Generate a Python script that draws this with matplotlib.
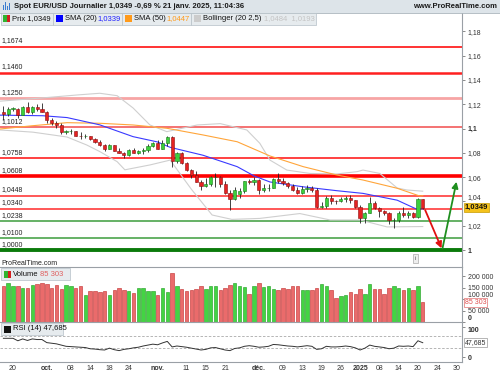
import numpy as np
import pandas as pd
import matplotlib
matplotlib.use("Agg")
import matplotlib.pyplot as plt
from matplotlib.patches import Rectangle

plt.rcParams['font.family'] = ['Liberation Sans', 'DejaVu Sans']

# ---- data -------------------------------------------------------------
opens = [1.1133, 1.1117, 1.1162, 1.1160, 1.1112, 1.1179, 1.1133, 1.1176, 1.1163,
         1.1135, 1.1068, 1.1046, 1.1032, 1.0975, 1.0976, 1.0978, 1.0942, 1.0935, 1.0937, 1.0910, 1.0890,
         1.0862, 1.0833, 1.0866, 1.0817, 1.0796, 1.0780, 1.0827, 1.0797, 1.0815, 1.0819, 1.0856,
         1.0884, 1.0833, 1.0878, 1.0930, 1.0729, 1.0800, 1.0720, 1.0656, 1.0620, 1.0562, 1.0530,
         1.0540, 1.0598, 1.0597, 1.0543, 1.0470, 1.0418, 1.0458, 1.0487, 1.0565, 1.0562,
         1.0577, 1.0497, 1.0510, 1.0512, 1.0586, 1.0567, 1.0553, 1.0527, 1.0496, 1.0467, 1.0500,
         1.0513, 1.0490, 1.0353, 1.0364, 1.0430, 1.0405, 1.0400, 1.0422, 1.0430, 1.0410,
         1.0354, 1.0265, 1.0307, 1.0387, 1.0342, 1.0320, 1.0302, 1.0243, 1.0245, 1.0308, 1.0290,
         1.0301, 1.0274, 1.0418]
highs = [1.1189, 1.1180, 1.1180, 1.1168, 1.1185, 1.1214, 1.1189, 1.1202, 1.1209,
         1.1145, 1.1083, 1.1058, 1.1047, 1.0989, 1.0992, 1.0983, 1.0968, 1.0955, 1.0940, 1.0919, 1.0903,
         1.0870, 1.0870, 1.0866, 1.0836, 1.0805, 1.0829, 1.0837, 1.0825, 1.0836, 1.0870, 1.0885,
         1.0905, 1.0906, 1.0937, 1.0937, 1.0805, 1.0808, 1.0728, 1.0668, 1.0654, 1.0580, 1.0595,
         1.0610, 1.0630, 1.0610, 1.0570, 1.0497, 1.0520, 1.0508, 1.0566, 1.0585, 1.0597,
         1.0585, 1.0541, 1.0545, 1.0590, 1.0630, 1.0595, 1.0560, 1.0540, 1.0520, 1.0523, 1.0535,
         1.0525, 1.0510, 1.0393, 1.0445, 1.0455, 1.0415, 1.0435, 1.0445, 1.0455, 1.0415,
         1.0370, 1.0315, 1.0436, 1.0400, 1.0350, 1.0330, 1.0315, 1.0260, 1.0317, 1.0350, 1.0318,
         1.0314, 1.0430, 1.0420]
lows = [1.1069, 1.1102, 1.1140, 1.1083, 1.1110, 1.1130, 1.1120, 1.1143, 1.1133,
        1.1045, 1.1030, 1.1008, 1.0951, 1.0954, 1.0956, 1.0940, 1.0915, 1.0925, 1.0902, 1.0880, 1.0855,
        1.0811, 1.0830, 1.0815, 1.0795, 1.0761, 1.0775, 1.0795, 1.0792, 1.0789, 1.0810, 1.0845,
        1.0830, 1.0830, 1.0860, 1.0683, 1.0713, 1.0706, 1.0650, 1.0595, 1.0557, 1.0496, 1.0520,
        1.0525, 1.0522, 1.0520, 1.0460, 1.0333, 1.0415, 1.0425, 1.0471, 1.0545, 1.0535,
        1.0460, 1.0480, 1.0485, 1.0510, 1.0555, 1.0536, 1.0510, 1.0485, 1.0465, 1.0465, 1.0480,
        1.0480, 1.0343, 1.0345, 1.0343, 1.0380, 1.0380, 1.0396, 1.0398, 1.0389, 1.0347,
        1.0226, 1.0225, 1.0305, 1.0340, 1.0272, 1.0290, 1.0215, 1.0178, 1.0230, 1.0270, 1.0260,
        1.0267, 1.0266, 1.0340]
closes = [1.1117, 1.1162, 1.1164, 1.1112, 1.1179, 1.1133, 1.1176, 1.1163, 1.1135,
          1.1068, 1.1046, 1.1032, 1.0975, 1.0976, 1.0978, 1.0942, 1.0935, 1.0937, 1.0910, 1.0890, 1.0862,
          1.0833, 1.0866, 1.0817, 1.0796, 1.0780, 1.0827, 1.0797, 1.0815, 1.0819, 1.0856, 1.0884,
          1.0833, 1.0878, 1.0930, 1.0729, 1.0800, 1.0720, 1.0656, 1.0620, 1.0562, 1.0530, 1.0540,
          1.0598, 1.0600, 1.0543, 1.0470, 1.0418, 1.0496, 1.0487, 1.0565, 1.0562, 1.0577,
          1.0497, 1.0510, 1.0512, 1.0586, 1.0567, 1.0553, 1.0527, 1.0496, 1.0467, 1.0500, 1.0513,
          1.0490, 1.0353, 1.0364, 1.0430, 1.0405, 1.0400, 1.0422, 1.0430, 1.0410, 1.0354,
          1.0265, 1.0307, 1.0387, 1.0342, 1.0320, 1.0302, 1.0243, 1.0245, 1.0308, 1.0290, 1.0301,
          1.0274, 1.0418, 1.0349]
volumes = [159e3, 171e3, 156e3, 159e3, 149e3, 149e3, 162e3, 167e3, 171e3,
           164e3, 149e3, 162e3, 145e3, 162e3, 156e3, 149e3, 155e3, 119e3, 136e3, 134e3, 133e3,
           134e3, 119e3, 141e3, 149e3, 140e3, 137e3, 127e3, 149e3, 149e3, 136e3, 136e3,
           119e3, 149e3, 133e3, 215e3, 156e3, 145e3, 134e3, 141e3, 145e3, 159e3, 145e3,
           155e3, 159e3, 141e3, 149e3, 162e3, 171e3, 159e3, 152e3, 122e3, 156e3,
           171e3, 152e3, 155e3, 145e3, 140e3, 149e3, 145e3, 156e3, 156e3, 141e3, 141e3,
           141e3, 149e3, 167e3, 156e3, 141e3, 103e3, 115e3, 116e3, 133e3, 123e3,
           145e3, 123e3, 164e3, 145e3, 145e3, 123e3, 149e3, 159e3, 149e3, 140e3, 149e3,
           140e3, 155e3, 85303]
rsi = [62, 62, 62, 54, 60, 55, 60, 58, 58,
       48, 46, 44, 40, 36, 35, 34, 33, 32, 28, 27, 25, 24, 30, 25, 22, 26, 28, 31, 33, 37, 40, 43,
       41, 47, 52, 34, 37, 35, 33, 30, 27, 24, 26, 31, 32, 28, 24, 22, 29, 31, 36, 38, 36,
       33, 34, 36, 42, 41, 39, 37, 36, 34, 36, 38, 36, 26, 28, 36, 34, 34, 35, 37, 35, 31,
       24, 30, 40, 36, 34, 32, 28, 30, 37, 36, 37, 35, 54, 47.685]

# indicator lines (bar index, value)
sma20_x = [-0.7, 8.2, 13.2, 20, 26.9, 31.9, 34.6, 41.4, 48.5, 52, 55.3, 62.2, 69.2, 74.6, 81.7, 85.8, 87]
sma20_y = [1.1110, 1.1105, 1.1090, 1.1030, 1.0933, 1.0890, 1.0845, 1.0780, 1.0686, 1.0610,
           1.0560, 1.0520, 1.0488, 1.0466, 1.0410, 1.0335, 1.0339]
sma50_x = [-0.7, 6.1, 13.2, 20, 26.9, 33.9, 41.4, 48.5, 55.3, 62.2, 69.2, 74.6, 81.7, 86.4, 87]
sma50_y = [1.0996, 1.1023, 1.1048, 1.1043, 1.1029, 1.1002, 1.0947, 1.0891, 1.0774, 1.0686,
           1.0617, 1.0576, 1.0508, 1.0444, 1.0447]
bb_up_x = [-0.7, 7.6, 15.3, 20, 23.6, 26.9, 30.4, 33.9, 40.2, 45, 50.5, 53.2, 55.3, 58.8,
           63.6, 69.2, 73.4, 74.6, 78.1, 81.7, 83.7, 87]
bb_up_y = [1.1225, 1.1250, 1.1276, 1.1290, 1.1270, 1.1169, 1.1029, 1.0974, 1.1029, 1.1040,
           1.0988, 1.0878, 1.0740, 1.0658, 1.0630, 1.0626, 1.0645, 1.0658, 1.0630, 1.0510,
           1.0494, 1.0484]
bb_lo_x = [-0.7, 6.1, 13.2, 17.3, 20, 23.6, 25.2, 30.4, 34.6, 39, 43.3, 47.4, 53.2, 61.5,
           67.8, 74, 79.6, 87]
bb_lo_y = [1.0988, 1.0970, 1.0930, 1.0864, 1.0810, 1.0727, 1.0660, 1.0700, 1.0740, 1.0500,
           1.0288, 1.0252, 1.0260, 1.0300, 1.0247, 1.0247, 1.0190, 1.0193]

levels = [1.1674, 1.1460, 1.1250, 1.1012, 1.0758, 1.0608, 1.0448, 1.0340, 1.0238, 1.0100, 1.0000]
level_colors = ['#ff1010', '#ff2020', '#f7a5a5', '#f25a5a', '#ff2020', '#ff0000',
                '#ff2a2a', '#ff2a2a', '#3c9c3c', '#3c9c3c', '#0b7a0b']
level_widths = [1.2, 1.8, 2.0, 1.2, 1.2, 2.6, 1.1, 1.1, 1.1, 1.1, 2.8]

# projection arrows: (bar index, price) start -> end
arrow_down = [(87.5, 1.0329), (90.9, 1.0014)]
arrow_up = [(91.1, 1.0014), (94.0, 1.0562)]

tick_dates = ['2024-09-20', '2024-10-01', '2024-10-08', '2024-10-14', '2024-10-18', '2024-10-24',
              '2024-11-01', '2024-11-11', '2024-11-15', '2024-11-21', '2024-12-02', '2024-12-09',
              '2024-12-13', '2024-12-19', '2024-12-26', '2025-01-02', '2025-01-08', '2025-01-14',
              '2025-01-20', '2025-01-24', '2025-01-30']
tick_labels = ['20', 'oct.', '08', '14', '18', '24', 'nov.', '11', '15', '21', 'déc.', '09',
               '13', '19', '26', '2025', '08', '14', '20', '24', '30']
bold_labels = ['oct.', 'nov.', 'déc.', '2025']

# trading days (no Christmas / New Year)
days = pd.bdate_range('2024-09-18', '2025-02-05')
days = days[~days.isin(pd.to_datetime(['2024-12-25', '2025-01-01']))]
pos = {d.strftime('%Y-%m-%d'): i for i, d in enumerate(days)}

n = len(closes)
x = np.arange(n)
o = np.array(opens); c = np.array(closes); h = np.array(highs); l = np.array(lows)
up = c >= o

# ---- figure -----------------------------------------------------------
W, H = 500, 375
fig = plt.figure(figsize=(5, 3.75), dpi=100)


def fx(px):
    return px / W


def fy(py):
    return 1 - py / H


RIGHT = 462
ax = fig.add_axes([0, fy(267), fx(RIGHT), (267 - 13) / H])
axv = fig.add_axes([0, fy(322), fx(RIGHT), (322 - 267) / H], sharex=ax)
axr = fig.add_axes([0, fy(362), fx(RIGHT), (362 - 322) / H], sharex=ax)

xmin = -3.4 / 4.82
xmax = (RIGHT - 3.4) / 4.82
ax.set_xlim(xmin, xmax)
ax.set_ylim(1 - 17 / 1215, 1 + 237 / 1215)
axv.set_ylim(0, 240000)
axr.set_ylim(-15, 115)

for a in (ax, axv, axr):
    for s in ('left', 'top', 'bottom'):
        a.spines[s].set_visible(False)
    a.spines['right'].set_color('#9aa0a6')
    a.spines['right'].set_linewidth(0.8)
    a.yaxis.tick_right()
    a.tick_params(axis='y', length=2.5, width=0.6, color='#777777', pad=1.5,
                  labelsize=5, labelcolor='#333333')
    a.tick_params(axis='x', length=0, labelbottom=False)

for a in (axv, axr):
    a.spines['top'].set_visible(True)
    a.spines['top'].set_color('#9aa0a6')
    a.spines['top'].set_linewidth(0.8)
axr.spines['bottom'].set_visible(True)
axr.spines['bottom'].set_color('#9aa0a6')
axr.spines['bottom'].set_linewidth(0.8)

# horizontal levels
for lv, col, lw in zip(levels, level_colors, level_widths):
    ax.axhline(lv, color=col, lw=lw, zorder=1)
    ax.text(0.004, lv + 0.0018, f'{lv:.4f}'.replace('.', ','), transform=ax.get_yaxis_transform(),
            fontsize=5, color='#222222', va='bottom', ha='left')

# indicators
ax.plot(bb_up_x, bb_up_y, color='#cfcfcf', lw=0.8, zorder=2)
ax.plot(bb_lo_x, bb_lo_y, color='#cfcfcf', lw=0.8, zorder=2)
ax.plot(sma50_x, sma50_y, color='#ffa53a', lw=0.8, zorder=2)
ax.plot(sma20_x, sma20_y, color='#3a3aff', lw=0.8, zorder=2)

# candles
ax.vlines(x, l, h, color='#222222', lw=0.6, zorder=3)
body_lo = np.minimum(o, c)
body_h = np.maximum(np.abs(c - o), 0.0003)
ax.bar(x[up], body_h[up], bottom=body_lo[up], width=0.66, color='#3ccf3c',
       edgecolor='#157a15', lw=0.4, zorder=4)
ax.bar(x[~up], body_h[~up], bottom=body_lo[~up], width=0.66, color='#e52222',
       edgecolor='#8a0f0f', lw=0.4, zorder=4)

# arrows
ax.annotate('', xy=arrow_down[1], xytext=arrow_down[0],
            arrowprops=dict(arrowstyle='-|>', color='#e01010', lw=1.3, mutation_scale=9,
                            shrinkA=0, shrinkB=0), zorder=6)
ax.annotate('', xy=arrow_up[1], xytext=arrow_up[0],
            arrowprops=dict(arrowstyle='-|>', color='#1f8f1f', lw=1.3, mutation_scale=9,
                            shrinkA=0, shrinkB=0), zorder=6)

yt = [1.18, 1.16, 1.14, 1.12, 1.1, 1.08, 1.06, 1.04, 1.02, 1.0]
ax.set_yticks(yt)
ax.set_yticklabels([f'{v:g}'.replace('.', ',') for v in yt])
for t, v in zip(ax.get_yticklabels(), yt):
    if v in (1.1, 1.0):
        t.set_fontweight('bold')
    if v == 1.04:
        t.set_va('bottom')

ax.text(1.006, closes[-1], f'{closes[-1]:.4f}'.replace('.', ','), transform=ax.get_yaxis_transform(),
        fontsize=5.5, fontweight='bold', color='#111111', va='center', ha='left',
        bbox=dict(boxstyle='square,pad=0.15', fc='#f4c21c', ec='#c89a00', lw=0.5), zorder=10,
        clip_on=False)

ax.text(0.004, 1 - 13.5 / 1215, 'ProRealTime.com', transform=ax.get_yaxis_transform(),
        fontsize=5, color='#222222', va='center', ha='left')
ax.text(415.5 / RIGHT, 1 - 8.5 / 1215, 'i', transform=ax.get_yaxis_transform(), fontsize=4.5,
        color='#555555', va='center', ha='center',
        bbox=dict(boxstyle='square,pad=0.25', fc='#eeeeee', ec='#aaaaaa', lw=0.5))

# volume
vcol = np.where(up, '#43d443', '#ea6b6b')
vedge = np.where(up, '#1c9a1c', '#c02a2a')
axv.bar(x, volumes, width=0.72, color=vcol, edgecolor=vedge, lw=0.4)
axv.set_yticks([0, 50000, 100000, 150000, 200000])
axv.set_yticklabels(['0', '50 000', '100 000', '150 000', '200 000'])
vlab = axv.get_yticklabels()
vlab[0].set_fontweight('bold')
vlab[0].set_va('bottom')
vlab[2].set_va('bottom')
axv.text(1.006, volumes[-1], '85 303', transform=axv.get_yaxis_transform(), fontsize=5,
         color='#e05050', va='center', ha='left', clip_on=False, zorder=10,
         bbox=dict(boxstyle='square,pad=0.15', fc='white', ec='#e07070', lw=0.5))

# RSI
axr.axhline(70, color='#aaaaaa', lw=0.6, ls=(0, (3, 2)))
axr.axhline(30, color='#aaaaaa', lw=0.6, ls=(0, (3, 2)))
axr.plot(x, rsi, color='#333333', lw=0.7)
axr.set_yticks([0, 100])
axr.set_yticklabels(['0', '100'])
for t in axr.get_yticklabels():
    t.set_fontweight('bold')
axr.get_yticklabels()[1].set_va('top')
axr.text(1.006, rsi[-1], '47,685', transform=axr.get_yaxis_transform(), fontsize=5,
         color='#333333', va='center', ha='left', clip_on=False, zorder=10,
         bbox=dict(boxstyle='square,pad=0.15', fc='white', ec='#999999', lw=0.5))

# date axis
axr.set_xticks([pos[d] for d in tick_dates])
axr.set_xticklabels(tick_labels)
axr.tick_params(axis='x', labelbottom=True, labelsize=5, labelcolor='#333333', pad=2)
for t in axr.get_xticklabels():
    if t.get_text() in bold_labels:
        t.set_fontweight('bold')

# ---- header and legend boxes ------------------------------------------
fig.patches.append(Rectangle((0, fy(12.5)), 1, 12.5 / H, transform=fig.transFigure,
                             fc='#dde4e9', ec='none', zorder=0))
fig.lines.append(plt.Line2D([0, 1], [fy(12.5), fy(12.5)], transform=fig.transFigure,
                            color='#aab4bb', lw=0.6))
for k, hh in enumerate([5, 8, 4, 7]):
    fig.patches.append(Rectangle((fx(3 + 2 * k), fy(10)), fx(1.2), hh / H,
                                 transform=fig.transFigure, fc='#3a7cd0', ec='none'))
fig.text(fx(14), fy(6.5), 'Spot EUR/USD Journalier 1,0349 -0,69 % 21 janv. 2025, 11:04:36',
         fontsize=5.5, fontweight='bold', color='#1a1a1a', va='center', ha='left')
fig.text(fx(497), fy(6.5), 'www.ProRealTime.com', fontsize=5.5, fontweight='bold',
         color='#1a1a1a', va='center', ha='right')


def legend_box(x0, x1, y0, y1):
    fig.patches.append(Rectangle((fx(x0), fy(y1)), fx(x1 - x0), (y1 - y0) / H,
                                 transform=fig.transFigure, fc='#e6ebee', ec='#b5c0c7',
                                 lw=0.5, zorder=5))


def swatch(x0, y0, col, col2=None):
    fig.patches.append(Rectangle((fx(x0), fy(y0 + 7)), fx(7), 7 / H, transform=fig.transFigure,
                                 fc=col, ec='none', zorder=6))
    if col2:
        fig.patches.append(Rectangle((fx(x0 + 3.5), fy(y0 + 7)), fx(3.5), 7 / H,
                                     transform=fig.transFigure, fc=col2, ec='none', zorder=6))


legend_box(1, 53, 13, 24.5)
swatch(3, 15, '#2fb52f', '#d42020')
fig.text(fx(12), fy(19), 'Prix 1,0349', fontsize=5.5, color='#111111', va='center', zorder=7)
legend_box(53, 122, 13, 24.5)
swatch(56, 15, '#0000ff')
fig.text(fx(65), fy(19), 'SMA (20)', fontsize=5.5, color='#111111', va='center', zorder=7)
fig.text(fx(97), fy(19), '1,0339', fontsize=5.5, color='#2020ff', va='center', zorder=7)
legend_box(122, 191, 13, 24.5)
swatch(125, 15, '#ff9a1a')
fig.text(fx(134), fy(19), 'SMA (50)', fontsize=5.5, color='#111111', va='center', zorder=7)
fig.text(fx(166), fy(19), '1,0447', fontsize=5.5, color='#ff9a1a', va='center', zorder=7)
legend_box(191, 316, 13, 24.5)
swatch(194, 15, '#cccccc')
fig.text(fx(203), fy(19), 'Bollinger (20 2,5)', fontsize=5.5, color='#111111', va='center', zorder=7)
fig.text(fx(264), fy(19), '1,0484  1,0193', fontsize=5.5, color='#c4c4c4', va='center', zorder=7)

legend_box(1, 70, 268, 280)
swatch(4, 270.5, '#2fb52f', '#d42020')
fig.text(fx(13), fy(274), 'Volume', fontsize=5.5, color='#111111', va='center', zorder=7)
fig.text(fx(40), fy(274), '85 303', fontsize=5.5, color='#e06060', va='center', zorder=7)

legend_box(1, 63, 323, 334.5)
swatch(4, 325.5, '#111111')
fig.text(fx(13), fy(329), 'RSI (14) 47,685', fontsize=5.5, color='#111111', va='center', zorder=7)

fig.savefig('out.png', dpi=100)
